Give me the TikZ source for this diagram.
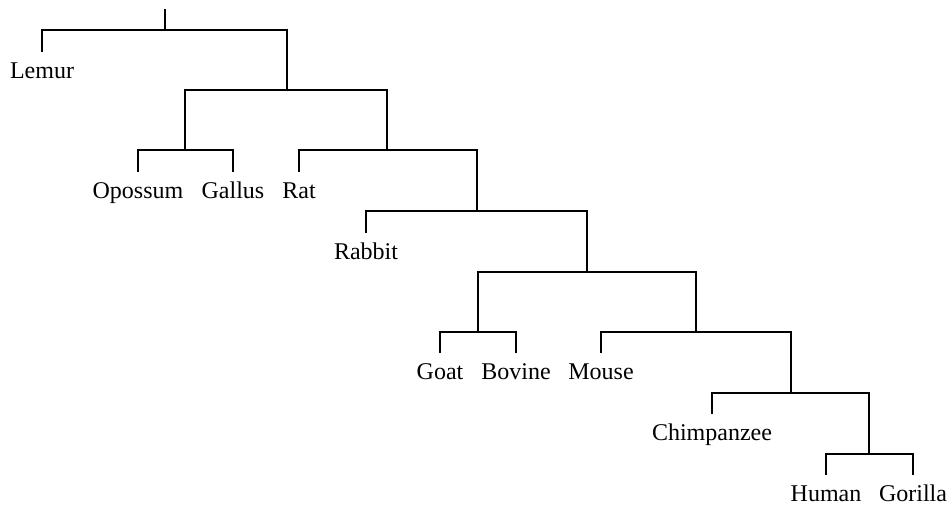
\documentclass[tikz,border=0pt]{standalone}
\usepackage{fontspec}
\setmainfont{Liberation Serif}
\begin{document}
\begin{tikzpicture}[x=0.75pt,y=-0.75pt,line width=0.8pt,
  taxon/.style={anchor=base,inner sep=0pt,font=\fontsize{18}{20}\selectfont}]
\useasboundingbox (0,0) rectangle (951,508);
%JOINTS
\coordinate (top) at (165,9);
\coordinate (j1) at (165,30);
\coordinate (j2) at (287,90);
\coordinate (j3) at (185,150);
\coordinate (j4) at (387,150);
\coordinate (j5) at (477,211);
\coordinate (j6) at (587,272);
\coordinate (j7) at (478,332);
\coordinate (j8) at (696,332);
\coordinate (j9) at (791,393);
\coordinate (j10) at (869,454);
%LEAVES
\coordinate (lemur) at (42,52);
\coordinate (opossum) at (138,172);
\coordinate (gallus) at (233,172);
\coordinate (rat) at (299,172);
\coordinate (rabbit) at (366,233);
\coordinate (goat) at (440,353);
\coordinate (bovine) at (516,353);
\coordinate (mouse) at (601,353);
\coordinate (chimp) at (712,414);
\coordinate (human) at (826,475);
\coordinate (gorilla) at (913,475);

%LABELS
\node[taxon] (lemurtxt) at ([yshift=-19.5pt]lemur) {Lemur};
\node[taxon] (opossumtxt) at ([yshift=-19.5pt]opossum) {Opossum};
\node[taxon] (gallustxt) at ([yshift=-19.5pt]gallus) {Gallus};
\node[taxon] (rattxt) at ([yshift=-19.5pt]rat) {Rat};
\node[taxon] (rabbittxt) at ([yshift=-19.5pt]rabbit) {Rabbit};
\node[taxon] (goattxt) at ([yshift=-19.5pt]goat) {Goat};
\node[taxon] (bovinetxt) at ([yshift=-19.5pt]bovine) {Bovine};
\node[taxon] (mousetxt) at ([yshift=-19.5pt]mouse) {Mouse};
\node[taxon] (chimptxt) at ([yshift=-19.5pt]chimp) {Chimpanzee};
\node[taxon] (humantxt) at ([yshift=-19.5pt]human) {Human};
\node[taxon] (gorillatxt) at ([yshift=-19.5pt]gorilla) {Gorilla};

%BRANCHES
\draw (top) -- (j1);
\draw (lemur) |- (j1) -| (j2);
\draw (j3) |- (j2) -| (j4);
\draw (opossum) |- (j3) -| (gallus);
\draw (rat) |- (j4) -| (j5);
\draw (rabbit) |- (j5) -| (j6);
\draw (j7) |- (j6) -| (j8);
\draw (goat) |- (j7) -| (bovine);
\draw (mouse) |- (j8) -| (j9);
\draw (chimp) |- (j9) -| (j10);
\draw (human) |- (j10) -| (gorilla);
\end{tikzpicture}
\end{document}
